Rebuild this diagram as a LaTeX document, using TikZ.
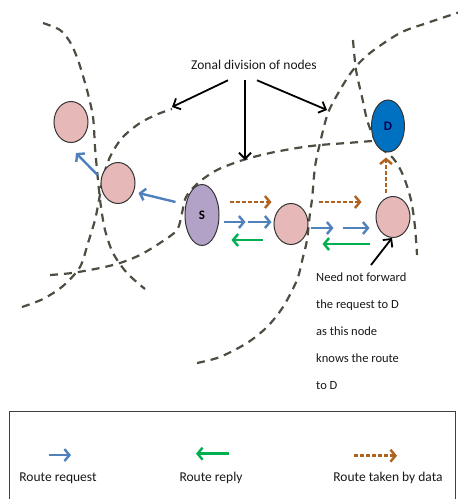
\documentclass[tikz,border=0pt]{standalone}
\usepackage{fontspec}
\setmainfont{Carlito}
\usetikzlibrary{arrows.meta,calc,shapes.geometric}
\definecolor{reqblue}{HTML}{4F81BD}
\definecolor{repgreen}{HTML}{00B050}
\definecolor{databrown}{HTML}{B0621E}
\definecolor{hostpink}{HTML}{E6B9B8}
\definecolor{srcpurple}{HTML}{B3A2C7}
\definecolor{dstblue}{HTML}{0070C0}
\definecolor{zonegray}{HTML}{4D4D42}

\begin{document}
\begin{tikzpicture}[x=1pt, y=-1pt,
    zone/.style={zonegray, line width=2.2pt, dash pattern=on 8pt off 6pt},
    host/.style={ellipse, draw=black!80, line width=1pt, fill=hostpink,
        minimum width=34pt, minimum height=41pt, inner sep=0pt},
    reqarrow/.style={reqblue, line width=2.4pt, -{Straight Barb[length=5pt,width=12pt]}},
    reparrow/.style={repgreen, line width=2.4pt, -{Straight Barb[length=5pt,width=12pt]}},
    dataarrow/.style={databrown, line width=2.4pt, dash pattern=on 4pt off 2pt,
        -{Straight Barb[length=5pt,width=12pt]}},
    pointer/.style={black, line width=1.8pt, -{Straight Barb[length=6pt,width=12pt]}},
    txt/.style={font=\fontsize{13.5}{16}\selectfont, text=black!90}]
    \useasboundingbox (0,0) rectangle (458,499);
    \fill[white] (0,0) rectangle (458,499);

    % zone borders
    \draw[zone] plot[smooth] coordinates {(43,23) (60,30) (70,42) (78,60) (87,90)
        (93,117) (95,147) (97,170) (99,190) (101,207) (105,230) (113,253) (127,273) (145,289)};
    \draw[zone] plot[smooth] coordinates {(22,307) (43,299) (63,286) (80,267) (88,243)
        (95,220) (99,200) (103,178) (110,157) (122,138) (140,123) (158,114) (172,109)};
    \draw[zone] plot[smooth] coordinates {(50,275) (72,273) (100,268) (120,263) (140,255)
        (160,243) (177,230) (182,213) (186,197) (198,183) (217,170) (243,160) (270,153)
        (297,148) (320,145) (347,143) (372,141)};
    \draw[zone] plot[smooth] coordinates {(197,363) (220,357) (247,343) (267,327) (283,307)
        (297,280) (303,257) (307,240) (310,213) (312,200) (315,167) (320,143) (328,113)
        (340,90) (353,70) (370,53) (400,33) (427,23) (460,12)};
    \draw[zone] plot[smooth] coordinates {(353,40) (356,70) (362,97) (368,123) (378,145)
        (393,158) (403,175) (411,200) (415,227) (417,255)};

    % nodes
    \node[host] (n1) at (71,122) {};
    \node[host] (n2) at (118,183) {};
    \node[host] (n3) at (291,224) {};
    \node[host] (n4) at (393,217) {};
    \node[host, fill=srcpurple, minimum width=34pt, minimum height=61pt,
        font=\bfseries\fontsize{13}{15}\selectfont] (s) at (202,215) {S};
    \node[host, fill=dstblue, minimum width=33pt, minimum height=52pt,
        font=\bfseries\fontsize{13}{15}\selectfont, text=black!70!blue] (d) at (388,126) {D};

    % route request
    \draw[reqarrow] ($(s.west)+(-9,-13)$) -- ($(n2.east)+(3,10)$);
    \draw[reqarrow] ($(n2.west)+(-3,-8)$) -- ($(n1.south)+(5,10)$);
    \draw[reqarrow] ($(s.east)+(4,7)$) -- ++(22,0);
    \draw[reqarrow] ($(n3.west)+(-26,-2)$) -- ($(n3.west)+(-2,-2)$);
    \draw[reqarrow] ($(n3.east)+(2,4)$) -- ++(23,0);
    \draw[reqarrow] ($(n4.west)+(-33,11)$) -- ($(n4.west)+(-6,11)$);
    % route reply
    \draw[reparrow] ($(n3.west)+(-11,16)$) -- ($(s.east)+(12,25)$);
    \draw[reparrow] ($(n4.west)+(-6,27)$) -- ($(n3.east)+(14,20)$);
    % data
    \draw[dataarrow] ($(s.east)+(10,-13)$) -- ($(n3.west)+(-2,-22)$);
    \draw[dataarrow] ($(n3.east)+(10,-22)$) -- ($(n4.west)+(-14,-15)$);
    \draw[dataarrow] ($(n4.north)+(-7,-3)$) -- ($(d.south)+(-2,5)$);

    % zone label
    \node[txt] (title) at (254,65) {Zonal division of nodes};
    \coordinate (zoneB) at (172,107);
    \coordinate (zoneC) at (245,160);
    \coordinate (zoneD) at (327,110);
    \draw[pointer] ($(title.south)+(-26,7)$) -- (zoneB);
    \draw[pointer] ($(title.south)+(-9,7)$) -- (zoneC);
    \draw[pointer] ($(title.south)+(3,7)$) -- (zoneD);

    % note
    \node[anchor=north west, inner sep=0pt, align=left, text=black!90,
        font=\fontsize{12.5}{27}\selectfont] (note) at (316,273)
        {Need not forward\\the request to D\\as this node\\knows the route\\to D};
    \draw[pointer] ($(note.north west)+(55,-8)$) -- ($(n4.south)+(-1,0)$);

    % legend
    \draw[black!75, line width=0.8pt] (9,499) -- (9,411) -- (455,411) -- (455,499);
    \node[txt] (lreq) at (58,478) {Route request};
    \node[txt] (lrep) at (211,478) {Route reply};
    \node[txt] (ldata) at (388,478) {Route taken by data};
    \draw[reqarrow] ($(lreq.north)+(-9,-14)$) -- ++(22,0);
    \draw[reparrow] ($(lrep.north)+(18,-15)$) -- ++(-33,0);
    \draw[dataarrow] ($(ldata.north)+(-34,-13)$) -- ++(43,0);
\end{tikzpicture}
\end{document}
